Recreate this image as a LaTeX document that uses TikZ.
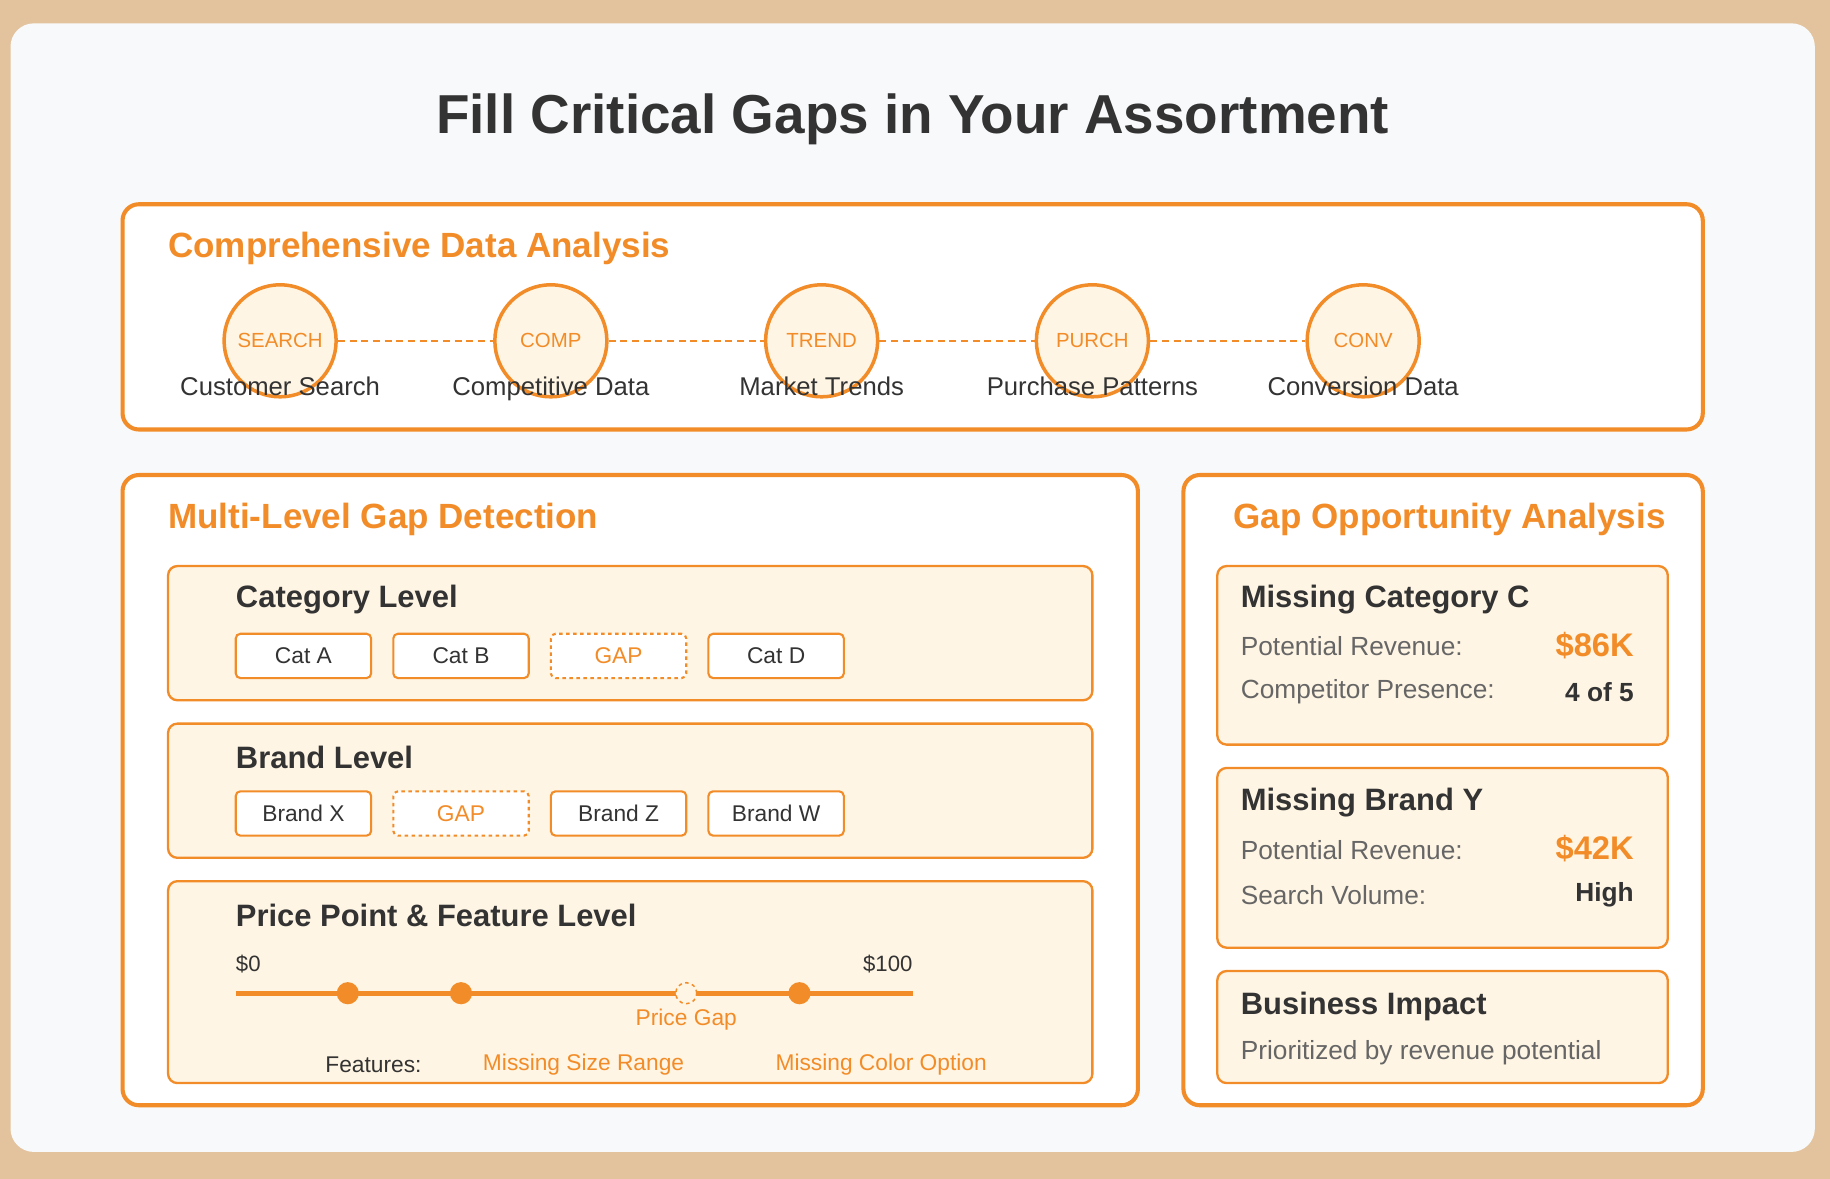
\documentclass[tikz,border=0pt]{standalone}
\usepackage{fontspec}
\setmainfont{Liberation Sans}
\definecolor{bgb}{HTML}{E3C39D}
\definecolor{card}{HTML}{F8F9FA}
\definecolor{org}{HTML}{F28C28}
\definecolor{cream}{HTML}{FFF5E4}
\definecolor{dark}{HTML}{333333}
\definecolor{gry}{HTML}{666666}
\newcommand{\fs}[1]{\fontsize{#1}{#1}\selectfont}
\begin{document}
\begin{tikzpicture}[x=1pt,y=-1pt,
  panel/.style={draw=org,line width=3.5pt,fill=white,rounded corners=14pt},
  sub/.style={draw=org,line width=2pt,fill=cream,rounded corners=8pt},
  ptitle/.style={anchor=west,inner sep=0,text=org,font=\fs{30}\bfseries},
  stitle/.style={anchor=west,inner sep=0,text=dark,font=\fs{26.5}\bfseries},
  circ/.style={circle,draw=org,line width=3pt,fill=cream,minimum size=96pt,inner sep=0,text=org,font=\fs{17.5}},
  clab/.style={anchor=base,inner sep=0,text=dark,font=\fs{22}},
  chip/.style={draw=org,line width=1.8pt,fill=white,rounded corners=4pt,minimum width=116pt,minimum height=38pt,inner sep=0,font=\fs{19.5},text=dark},
  gapchip/.style={chip,dashed,text=org},
  lbl/.style={anchor=west,inner sep=0,text=gry,font=\fs{22.5}},
  dot/.style={circle,fill=org,minimum size=19pt,inner sep=0}]
\useasboundingbox (0,0) rectangle (1568,1010);
\fill[bgb] (0,0) rectangle (1568,1010);
\fill[card,rounded corners=20pt] (9,20) rectangle (1555,987);
\node[text=dark,font=\fs{47}\bfseries] (title) at (782,102) {Fill Critical Gaps in Your Assortment};
% panel 1
\draw[panel] (105,175) rectangle (1459,368);
\node[ptitle] (t1) at (144,213) {Comprehensive Data Analysis};
\foreach \n/\x/\a in {c1/240/SEARCH,c2/472/COMP,c3/704/TREND,c4/936/PURCH,c5/1168/CONV}{
  \node[circ] (\n) at (\x,292) {\a};
}
\foreach \a/\b in {c1/c2,c2/c3,c3/c4,c4/c5}{\draw[org,line width=1.5pt,dash pattern=on 6pt off 4pt] (\a) -- (\b);}
\foreach \n/\x/\b in {l1/240/Customer Search,l2/472/Competitive Data,l3/704/Market Trends,l4/936/Purchase Patterns,l5/1168/Conversion Data}{
  \node[clab] (\n) at (\x,339) {\b};
}
% panel 2
\draw[panel] (105,407) rectangle (975,947);
\node[ptitle] (t2) at (144,445) {Multi-Level Gap Detection};
\draw[sub] (144,485) rectangle (936,600);
\draw[sub] (144,620) rectangle (936,735);
\draw[sub] (144,755) rectangle (936,928);
\node[stitle] (s1) at (202,514) {Category Level};
\node[chip] (ca) at (260,562) {Cat A};
\node[chip] (cb) at (395,562) {Cat B};
\node[gapchip] (cg) at (530,562) {GAP};
\node[chip] (cd) at (665,562) {Cat D};
\node[stitle] (s2) at (202,649) {Brand Level};
\node[chip] (bx) at (260,697) {Brand X};
\node[gapchip] (bg) at (395,697) {GAP};
\node[chip] (bz) at (530,697) {Brand Z};
\node[chip] (bw) at (665,697) {Brand W};
\node[stitle] (s3) at (202,784) {Price Point \& Feature Level};
\node[anchor=west,inner sep=0,text=dark,font=\fs{19}] (p0) at (202,826) {\$0};
\node[anchor=east,inner sep=0,text=dark,font=\fs{19}] (p100) at (782,826) {\$100};
\coordinate (la) at (202,851); \coordinate (lb) at (782,851);
\draw[org,line width=4pt] (la) -- (lb);
\node[dot] (d1) at (298,851) {};
\node[dot] (d2) at (395,851) {};
\node[dot] (d3) at (685,851) {};
\node[circle,draw=org,dashed,line width=1.3pt,fill=cream,minimum size=18pt,inner sep=0] (dg) at (588,851) {};
\node[text=org,font=\fs{19.5}] (pg) at (588,874) {Price Gap};
\node[text=dark,font=\fs{19.5}] (ft) at (320,912) {Features:};
\node[text=org,font=\fs{19.5}] (f1) at (500,912) {Missing Size Range};
\node[text=org,font=\fs{19.5}] (f2) at (755,912) {Missing Color Option};
% panel 3
\draw[panel] (1014,407) rectangle (1459,947);
\node[text=org,font=\fs{30}\bfseries] (t3) at (1242,445) {Gap Opportunity Analysis};
\draw[sub] (1043,485) rectangle (1429,638);
\draw[sub] (1043,658) rectangle (1429,812);
\draw[sub] (1043,832) rectangle (1429,928);
\node[stitle] (m1) at (1063,514) {Missing Category C};
\node[lbl] (m1a) at (1063,554) {Potential Revenue:};
\node[anchor=east,inner sep=0,text=org,font=\fs{28}\bfseries] (m1v) at (1400,553) {\$86K};
\node[lbl] (m1b) at (1063,593) {Competitor Presence:};
\node[anchor=east,inner sep=0,text=dark,font=\fs{22.5}\bfseries] (m1w) at (1400,593) {4 of 5};
\node[stitle] (m2) at (1063,688) {Missing Brand Y};
\node[lbl] (m2a) at (1063,728) {Potential Revenue:};
\node[anchor=east,inner sep=0,text=org,font=\fs{28}\bfseries] (m2v) at (1400,727) {\$42K};
\node[lbl] (m2b) at (1063,767) {Search Volume:};
\node[anchor=east,inner sep=0,text=dark,font=\fs{22.5}\bfseries] (m2w) at (1400,767) {High};
\node[stitle] (m3) at (1063,862) {Business Impact};
\node[lbl] (m3a) at (1063,902) {Prioritized by revenue potential};
\end{tikzpicture}
\end{document}
